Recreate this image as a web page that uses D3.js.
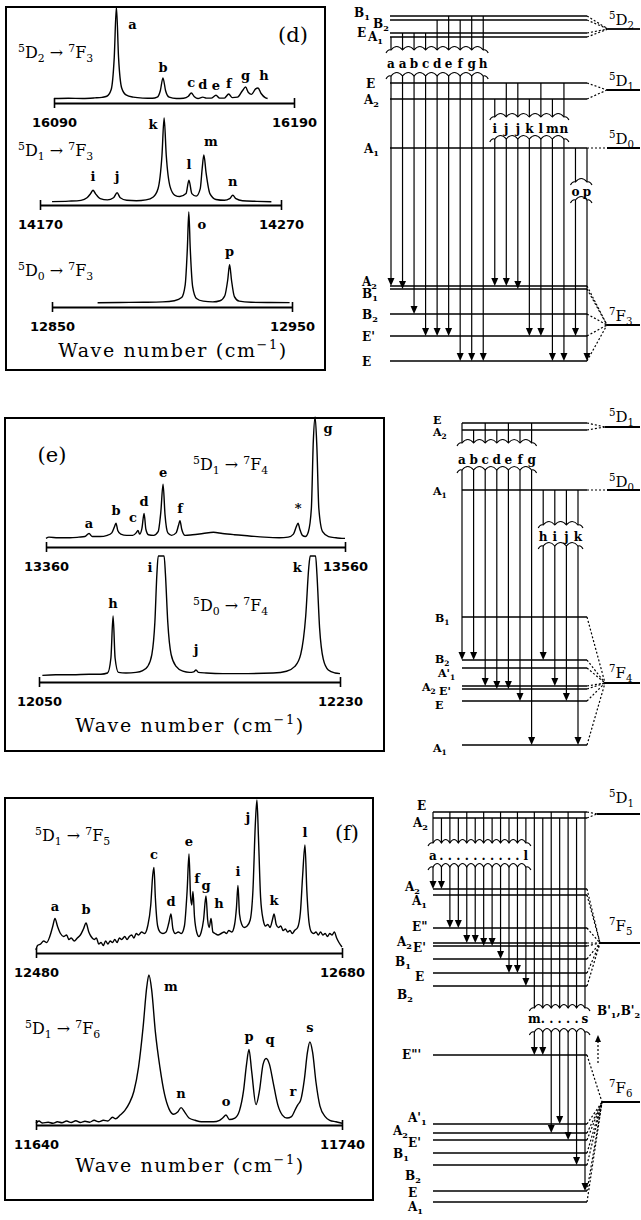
<!DOCTYPE html>
<html>
<head>
<meta charset="utf-8">
<script src="https://cdn.jsdelivr.net/npm/d3@7/dist/d3.min.js"></script>
<style>
  body { margin: 0; background: #fff; }
  text { fill: #000; }
</style>
</head>
<body>
<svg id="chart" width="641" height="1220"></svg>
<script>
// ---------- spectra: [wave number (cm-1), relative intensity] ----------
const specD1 = [[16090,0.5],[16096,0.8],[16102,0.6],[16107,1.2],[16110,1.8],[16112,3],[16113.8,10],[16115.1,45],[16116,100],[16116.9,45],[16118.2,12],[16120,4.5],[16123,2],[16127,1],[16131,0.8],[16133,2],[16134.3,9],[16135.4,23],[16136.5,9],[16138,2],[16141,0.5],[16144,0.8],[16146,3],[16147.2,6.5],[16148.5,2.5],[16150,0.5],[16152,2],[16153.5,1],[16155.5,1],[16157.5,4],[16159,1],[16161,1],[16162.8,5.5],[16164.3,1.5],[16166.5,2],[16168.5,9],[16169.8,13],[16171,7],[16172.3,5],[16174,11],[16175,12],[16176.3,6],[16178,1.5],[16179,0.5]];
const specD2 = [[14175,0.5],[14182,1],[14187,2],[14189.5,5],[14191,10],[14192,14],[14193,10],[14195,4],[14198,2.5],[14200.5,5],[14202,11],[14203.3,5],[14206,2],[14210,1.5],[14214,2.5],[14217,6],[14219,16],[14220.6,55],[14221.5,100],[14222.4,55],[14224,18],[14226,8],[14228,6.5],[14230.6,10],[14231.8,26],[14233,10],[14234.8,7],[14236.5,16],[14237.3,40],[14238,56],[14238.9,35],[14240.5,10],[14243,3],[14246.5,2],[14248.7,4],[14250,8],[14251.3,4],[14254,1.5],[14260,0.8],[14266,0.3]];
const specD3 = [[12869,0.3],[12878,0.6],[12888,0.8],[12896,1.2],[12901,2.5],[12904,6],[12905.5,20],[12906.4,60],[12907,100],[12907.6,60],[12908.6,18],[12910.2,5],[12913,2],[12917,1.2],[12920,2.5],[12922,8],[12923.2,25],[12924,42],[12924.8,25],[12926,7],[12928,2],[12933,0.8],[12941,0.5],[12949,0.4]];
const specE1 = [[13360,0.5],[13362,1.5],[13368,1],[13376,1],[13382,1.5],[13386,2],[13388.8,4.5],[13391,2],[13396,2],[13401,3],[13404,5],[13405.8,10],[13406.8,13],[13408,7],[13410,4],[13414,3],[13418,3],[13420.3,5],[13421.5,7],[13422.6,4],[13424.2,9],[13425.6,21],[13426.8,8],[13428.5,3.5],[13432,3],[13435,6],[13436.8,22],[13438.3,45],[13439.6,20],[13441.5,5],[13444,3],[13447,5],[13448.6,11],[13449.6,15],[13450.8,8],[13453,3],[13458,3.5],[13465,4.5],[13472,5.5],[13478,4.5],[13486,3.5],[13496,2.5],[13506,1.5],[13516,1],[13522,1.5],[13525.5,4],[13527.4,10],[13528.6,13],[13529.8,8],[13531.5,3],[13533.5,2],[13535.5,6],[13537.5,25],[13538.8,80],[13540,100],[13541.2,75],[13542.5,25],[13545,6],[13549,2],[13554,1],[13558,0.5],[13560,0.5]];
const specE2 = [[12052,0.5],[12060,1],[12070,1],[12080,1.5],[12087,1.5],[12091,2.5],[12093,15],[12094.3,50],[12095.5,15],[12097.5,3],[12102,2.5],[12108,3],[12112,4.5],[12115,8],[12117.5,18],[12119.3,45],[12120.5,85],[12121.3,100],[12124.8,100],[12125.6,85],[12127,45],[12129,18],[12132,8],[12136,4],[12140,3],[12142.5,3.5],[12143.9,5],[12145.3,3],[12150,2.5],[12160,2],[12175,2],[12190,2.5],[12198,4],[12203,8],[12206.5,18],[12209.5,50],[12211.3,90],[12212.2,100],[12215.4,100],[12216.2,85],[12217.8,40],[12220,14],[12223,5],[12227,2.5],[12230,2]];
const specF1 = [[12480,0],[12481,3],[12483,4],[12485,6],[12487,5],[12489,9],[12491,16],[12492.4,21],[12494,16],[12496,11],[12498,9],[12500,10],[12501.5,7],[12503,8],[12505,6],[12507,8],[12509,10],[12511,14],[12512.7,18],[12514.5,12],[12516,9],[12518,7],[12519.5,8],[12521,4],[12522.5,5],[12524,3],[12525.5,6],[12527,4],[12528.5,6],[12530,5],[12531.5,7],[12533,5],[12534.5,8],[12536,7],[12538,9],[12539.5,7],[12541,9],[12542.5,10],[12544,8],[12545.5,11],[12547,10],[12549,12],[12551,11],[12553,16],[12555,30],[12556.3,50],[12557.1,55],[12558,35],[12559.5,16],[12561,12],[12563,11],[12565,12],[12566.8,18],[12568.2,24],[12569.5,14],[12571,11],[12573,12],[12575,11],[12577,16],[12578.8,40],[12580,64],[12581,36],[12581.8,30],[12582.6,39],[12583.6,22],[12585,12],[12586.5,9],[12588,12],[12589.5,20],[12591.1,36],[12592.2,20],[12593.2,15],[12594.4,21],[12595.6,12],[12597,11],[12599,10],[12601,11],[12603,12],[12604.5,11],[12606,13],[12608,12],[12609.8,17],[12611,28],[12612,43],[12613,24],[12614.5,17],[12616,15],[12618,16],[12620,20],[12621.8,40],[12623.4,85],[12624.4,100],[12625.4,75],[12626.8,35],[12628.5,20],[12630,16],[12631.5,17],[12633,15],[12634.5,20],[12635.6,24],[12637,17],[12638.5,15],[12640,16],[12641.5,13],[12643,14],[12644.5,12],[12646,13],[12647.5,11],[12649,13],[12651,15],[12652.8,25],[12654.3,50],[12655.8,70],[12657,40],[12658.5,18],[12660,12],[12661.5,11],[12663,12],[12664.5,10],[12666,12],[12667.5,10],[12669,11],[12670.5,9],[12672,11],[12673.5,10],[12675,12],[12676.5,8],[12678,5],[12680,2]];
const specF2 = [[11640,0.5],[11641,2],[11642,0.7],[11644,1.2],[11645.5,0.5],[11647,1.5],[11648.5,0.8],[11650,2],[11651.5,1],[11653,2.2],[11654.5,1],[11656,1.8],[11657.5,1.2],[11659,2.5],[11660.5,1.5],[11662,2.5],[11663.5,2],[11665,4.5],[11666,3.5],[11667.5,6],[11669,9],[11670.5,14],[11672,22],[11673.5,38],[11675,65],[11676.2,92],[11676.9,100],[11677.8,90],[11679,62],[11680.5,38],[11682,20],[11683.5,10],[11685,6.5],[11686.3,8],[11687.4,11],[11688.6,8],[11690,4],[11692,2.5],[11694,1.5],[11696,1.5],[11698,1.5],[11700,2.5],[11701,4],[11702.1,6],[11703.2,3],[11705,4],[11706.5,9],[11707.8,22],[11708.8,40],[11709.6,50],[11710.5,35],[11711.9,13],[11713,22],[11714.2,40],[11715.2,44],[11716.3,40],[11717.5,28],[11719,13],[11720.5,6],[11722,4],[11723.5,5],[11724.8,10],[11725.6,13],[11726.5,16],[11727.7,30],[11728.7,48],[11729.5,55],[11730.4,48],[11731.5,28],[11732.8,12],[11734.5,5],[11736,2.5],[11738,1.5],[11740,0.5]];

// peak labels: [label, wave number, intensity]
const peaksD1 = [['a',16116,100],['b',16135.4,23],['c',16147.2,6.5],['d',16152,2],['e',16157.5,4],['f',16162.8,5.5],['g',16169.8,13],['h',16175,12]];
const peaksD2 = [['i',14192,14],['j',14202,11],['k',14221.5,100],['l',14231.8,26],['m',14238,56],['n',14250,8]];
const peaksD3 = [['o',12907,100],['p',12924,42]];
const peaksE1 = [['a',13388.8,4.5],['b',13406.8,13],['c',13421.5,7],['d',13425.6,21],['e',13438.3,45],['f',13449.6,15],['*',13528.6,13],['g',13540,100]];
const peaksE2 = [['h',12094.3,50],['i',12123,100],['j',12143.9,5],['k',12214,100]];
const peaksF1 = [['a',12492.4,21],['b',12512.7,18],['c',12557.1,55],['d',12568.2,24],['e',12580,64],['f',12582.6,39],['g',12591.1,36],['h',12594.4,21],['i',12612,43],['j',12624.4,100],['k',12635.6,24],['l',12655.8,70]];
const peaksF2 = [['m',11676.9,100],['n',11687.4,11],['o',11702.1,6],['p',11709.6,50],['q',11715.2,44],['r',11725.6,13],['s',11729.5,55]];

// axis tick labels
const ticksD1 = [16090, 16190];
const ticksD2 = [14170, 14270];
const ticksD3 = [12850, 12950];
const ticksE1 = [13360, 13560];
const ticksE2 = [12050, 12230];
const ticksF1 = [12480, 12680];
const ticksF2 = [11640, 11740];

// ^x = superscript char, _x = subscript char
const titles = ['^5D_2 → ^7F_3', '^5D_1 → ^7F_3', '^5D_0 → ^7F_3', '^5D_1 → ^7F_4', '^5D_0 → ^7F_4', '^5D_1 → ^7F_5', '^5D_1 → ^7F_6'];
const panelNames = ['(d)', '(e)', '(f)'];
const xAxisTitle = 'Wave number (cm^−^1)';

// ---------- energy level diagrams ----------
// terms: [name, energy]; levels: [term index, name, energy]; transitions: [label, from level, to level]
const termsD = [['^5D_2', 332], ['^5D_1', 271], ['^5D_0', 213], ['^7F_3', 36]];
const levelsD = [[0,'B_1',345],[0,'B_2',341],[0,'E',328],[0,'A_1',324],[1,'E',278],[1,'A_2',262],[2,'A_1',213],[3,'A_2',75],[3,'B_1',72],[3,'B_2',47],[3,"E'",25],[3,'E',0]];
const transD = [['a',3,7],['a',2,8],['b',2,9],['c',2,10],['d',1,10],['e',0,10],['f',1,11],['g',0,11],['h',0,11],['i',5,7],['j',4,7],['j',4,8],['k',5,10],['l',4,10],['m',5,11],['n',4,11],['o',6,10],['p',6,11]];

const termsE = [['^5D_1', 318], ['^5D_0', 255], ['^7F_4', 62]];
const levelsE = [[0,'E',322],[0,'A_2',315],[1,'A_1',255],[2,'B_1',128],[2,'B_2',85],[2,"A'_1",77],[2,'A_2',59],[2,"E'",56],[2,'E',44],[2,'A_1',0]];
const transE = [['a',0,4],['b',1,4],['c',0,6],['d',1,7],['e',0,7],['f',1,8],['g',0,9],['h',2,4],['i',2,6],['j',2,8],['k',2,9]];

const termsF = [['^5D_1', 388], ['^7F_5', 259], ['^7F_6', 100]];
const levelsF = [[0,'E',390],[0,'A_2',384],[1,'A_2',313],[1,'A_1',307],[1,'E"',274],[1,'A_2',259],[1,"E'",256],[1,'B_1',243],[1,'E',229],[1,'B_2',216],[2,'E"\'',147],[2,"A'_1",78],[2,'A_2',69],[2,"E'",62],[2,'B_1',49],[2,'B_2',37],[2,'E',11],[2,'A_1',0]];
const transF = [['a',0,2],['b',1,2],['c',0,4],['d',1,4],['e',0,5],['f',1,5],['g',0,6],['h',1,6],['i',0,7],['j',1,8],['k',0,8],['l',1,9],['m',0,10],['n',1,10],['o',0,12],['p',1,11],['q',0,13],['r',1,15],['s',0,16]];
const extraF = "B'_1,B'_2";

// ---------- layout ----------
const SERIF = "'DejaVu Serif', 'Liberation Serif', serif";
const SANS = "'DejaVu Sans', 'Liberation Sans', sans-serif";
const svg = d3.select('#chart');

const boxes = [[6, 7, 319, 363], [5, 418, 379, 333], [5, 798, 368, 402]];
const panelNamePos = [[293, 42], [52, 462], [347, 840]];
const axisTitlePos = [[173, 357], [190, 732], [190, 1172]];

const spectra = [
  {data: specD1, peaks: peaksD1, ticks: ticksD1, title: titles[0], xr: [54, 294], axisY: 103, baseY: 99, topY: 7, tx: 18, ty: 58,
   nudge: {a: [16, 28], d: [0, -2], e: [0, 1], g: [0, -1], h: [6, -2]}},
  {data: specD2, peaks: peaksD2, ticks: ticksD2, title: titles[1], xr: [40, 281], axisY: 205, baseY: 202, topY: 118, tx: 18, ty: 156,
   nudge: {i: [0, -3], j: [0, -6], k: [-11, 17], l: [0, -5], m: [7, -3], n: [0, -3]}},
  {data: specD3, peaks: peaksD3, ticks: ticksD3, title: titles[2], xr: [52, 292], axisY: 307, baseY: 303, topY: 212, tx: 18, ty: 276,
   nudge: {o: [13, 23], p: [0, -3]}},
  {data: specE1, peaks: peaksE1, ticks: ticksE1, title: titles[3], xr: [46, 345], axisY: 547, baseY: 539, topY: 417, tx: 193, ty: 470,
   nudge: {b: [0, -2], c: [-5, -2], d: [0, -1], e: [0, -1], f: [0, -2], '*': [0, -4], g: [13, 22]}},
  {data: specE2, peaks: peaksE2, ticks: ticksE2, title: titles[4], xr: [39, 340], axisY: 682, baseY: 676, topY: 556, tx: 193, ty: 611,
   nudge: {h: [0, -2], i: [-11, 22], j: [0, -10], k: [-16, 22]}},
  {data: specF1, peaks: peaksF1, ticks: ticksF1, title: titles[5], xr: [36, 342], axisY: 953, baseY: 950, topY: 800, tx: 35, ty: 841,
   nudge: {a: [0, -2], b: [0, -3], c: [0, -3], d: [0, -2], e: [0, -2], f: [4, -3], g: [0, 0], h: [8, -5], i: [0, -4], j: [-9, 28], k: [0, -3], l: [0, -2]}},
  {data: specF2, peaks: peaksF2, ticks: ticksF2, title: titles[6], xr: [36, 342], axisY: 1125, baseY: 1124, topY: 975, tx: 25, ty: 1034,
   nudge: {m: [22, 22], n: [0, -4], o: [0, -3], p: [0, -3], q: [4, -8], r: [-5, -3], s: [0, -4]}}
];

const diagrams = [
  {levels: levelsD, terms: termsD, trans: transD, left: 390, right: 587, tr: [391, 587], eMax: 345, yr: [361, 16],
   conv: [608, 607, 607, 607], termDy: [-4, -4, -4, -4], labSize: 12,
   groups: [[0, 8, 50, 68, 76], [9, 15, 117, 133, 139], [16, 17, 182, 196, 200]],
   lab: [[-36,1],[-17,8],[-33,4],[-22,4],[-24,5],[-26,5],[-26,5],[-28,0],[-28,9],[-28,5],[-28,5],[-28,5]]},
  {levels: levelsE, terms: termsE, trans: transE, left: 462, right: 587, tr: [462, 578], eMax: 322, yr: [745, 423],
   conv: [605, 607, 605], termDy: [-5, -3, -5], labSize: 11,
   groups: [[0, 6, 443, 464, 470], [7, 10, 525, 541, 546]],
   lab: [[-29,1],[-29,6],[-29,5],[-27,5],[-27,3],[-24,9],[-40,5],[-23,6],[-27,8],[-29,7]]},
  {levels: levelsF, terms: termsF, trans: transF, left: 433, right: 587, tr: [433, 585], eMax: 390, yr: [1202, 812],
   conv: [597, 600, 602], termDy: [-11, -12, -9], dotted: true, labSize: 12,
   groups: [[0, 11, 843, 860, 867], [12, 18, 1008, 1023, 1032]],
   lab: [[-16,-2],[-20,9],[-28,2],[-21,10],[-21,3],[-36,3],[-20,6],[-38,7],[-18,8],[-36,13],[-31,4],[-25,-2],[-40,2],[-25,7],[-40,5],[-28,15],[-25,6],[-25,9]],
   extra: {text: extraF, x: 597, y: 1015, ax: 598, ay: [1063, 1035]}}
];

// text with ^sup and _sub characters
function rich(sel, str, size) {
  let cur = 0;
  (str.match(/\^.|_.|[^\^_]+/g) || []).forEach(p => {
    let off = 0, s = size, t = p;
    if (p[0] === '^') { off = -0.4 * size; s = size * 0.68; t = p.slice(1); }
    else if (p[0] === '_') { off = 0.28 * size; s = size * 0.68; t = p.slice(1); }
    sel.append('tspan').attr('dy', off - cur).attr('font-size', s).text(t);
    cur = off;
  });
  return sel;
}

// panel frames
svg.selectAll('rect.box').data(boxes).join('rect')
  .attr('x', d => d[0]).attr('y', d => d[1]).attr('width', d => d[2]).attr('height', d => d[3])
  .attr('fill', 'none').attr('stroke', '#000').attr('stroke-width', 2);

panelNames.forEach((n, i) => {
  svg.append('text').attr('x', panelNamePos[i][0]).attr('y', panelNamePos[i][1])
    .attr('text-anchor', 'middle').attr('font-family', SERIF).attr('font-size', 21).text(n);
  rich(svg.append('text').attr('x', axisTitlePos[i][0]).attr('y', axisTitlePos[i][1])
    .attr('text-anchor', 'middle').attr('font-family', SERIF).attr('letter-spacing', 1.6), xAxisTitle, 19);
});

// spectra
spectra.forEach(s => {
  const x = d3.scaleLinear().domain(d3.extent(s.ticks)).range(s.xr);
  const y = d3.scaleLinear().domain([0, 100]).range([s.baseY, s.topY]);
  const g = svg.append('g');

  g.append('path').datum(s.data)
    .attr('d', d3.line().x(d => x(d[0])).y(d => y(d[1])).curve(d3.curveMonotoneX))
    .attr('fill', 'none').attr('stroke', '#000').attr('stroke-width', 1.4).attr('stroke-linejoin', 'round');

  const ax = g.append('g').attr('transform', `translate(0,${s.axisY})`)
    .call(d3.axisBottom(x).tickValues(s.ticks).tickFormat(d3.format('d')).tickSizeOuter(0).tickSizeInner(0));
  ax.select('.domain').attr('stroke-width', 1.8);
  ax.selectAll('.tick line').attr('y1', -5).attr('y2', 5).attr('stroke-width', 1.6);
  ax.selectAll('.tick text').attr('y', 24).attr('dy', null)
    .attr('font-family', SANS).attr('font-size', 13).attr('font-weight', 'bold');

  g.selectAll('text.pk').data(s.peaks).join('text')
    .attr('x', d => x(d[1]) + (s.nudge[d[0]] || [0, 0])[0])
    .attr('y', d => y(d[2]) - 6 + (s.nudge[d[0]] || [0, 0])[1])
    .attr('text-anchor', 'middle').attr('font-family', SERIF).attr('font-weight', 'bold').attr('font-size', 13)
    .text(d => d[0]);

  rich(g.append('text').attr('x', s.tx).attr('y', s.ty).attr('font-family', SERIF), s.title, 16);
});

function wave(xs, y0) {
  const first = xs[0], last = xs[xs.length - 1];
  let p = `M${first - 5},${y0 + 3}Q${first - 3},${y0 - 1} ${first},${y0}`;
  for (let k = 0; k < xs.length - 1; k++) p += `Q${(xs[k] + xs[k + 1]) / 2},${y0 - 7} ${xs[k + 1]},${y0}`;
  p += `Q${last + 3},${y0 - 1} ${last + 5},${y0 + 3}`;
  return p;
}

function drawDiagram(c) {
  const y = d3.scaleLinear().domain([0, c.eMax]).range(c.yr);
  const x = d3.scalePoint().domain(d3.range(c.trans.length)).range(c.tr);
  const g = svg.append('g');

  g.selectAll('line.lv').data(c.levels).join('line')
    .attr('x1', c.left).attr('x2', c.right).attr('y1', d => y(d[2])).attr('y2', d => y(d[2]))
    .attr('stroke', '#000').attr('stroke-width', 1.6);

  g.selectAll('line.cn').data(c.levels).join('line')
    .attr('x1', c.right).attr('y1', d => y(d[2]))
    .attr('x2', d => c.conv[d[0]]).attr('y2', d => y(c.terms[d[0]][1]))
    .attr('stroke', '#000').attr('stroke-width', 1.2).attr('stroke-dasharray', '2,2');

  c.terms.forEach((t, i) => {
    g.append('line').attr('x1', c.conv[i]).attr('x2', 640).attr('y1', y(t[1])).attr('y2', y(t[1]))
      .attr('stroke', '#000').attr('stroke-width', 1.8);
    rich(g.append('text').attr('x', 609).attr('y', y(t[1]) + c.termDy[i]).attr('font-family', SERIF), t[0], 15);
  });

  c.levels.forEach((d, i) => {
    rich(g.append('text').attr('x', c.left + c.lab[i][0]).attr('y', y(d[2]) + c.lab[i][1])
      .attr('font-family', SERIF).attr('font-weight', 'bold'), d[1], c.labSize);
  });

  c.trans.forEach((t, i) => {
    const xi = x(i), y0 = y(c.levels[t[1]][2]), y1 = y(c.levels[t[2]][2]);
    const grp = c.groups.find(gr => i >= gr[0] && i <= gr[1]);
    const segs = grp ? [[y0, grp[2]], [grp[4], y1 - 7]] : [[y0, y1 - 7]];
    segs.forEach(sg => g.append('line').attr('x1', xi).attr('x2', xi).attr('y1', sg[0]).attr('y2', sg[1])
      .attr('stroke', '#000').attr('stroke-width', 1.2));
    g.append('path').attr('d', `M${xi - 3.5},${y1 - 8}L${xi + 3.5},${y1 - 8}L${xi},${y1}Z`).attr('fill', '#000');
  });

  c.groups.forEach(gr => {
    const idx = d3.range(gr[0], gr[1] + 1);
    const xs = idx.map(x);
    [gr[2], gr[4]].forEach(yy => g.append('path').attr('d', wave(xs, yy))
      .attr('fill', 'none').attr('stroke', '#000').attr('stroke-width', 1.1));
    idx.forEach((ii, k) => {
      const label = (c.dotted && k > 0 && k < idx.length - 1) ? '.' : c.trans[ii][0];
      g.append('text').attr('x', x(ii)).attr('y', gr[3]).attr('text-anchor', 'middle')
        .attr('font-family', SERIF).attr('font-weight', 'bold').attr('font-size', 12).text(label);
    });
  });

  if (c.extra) {
    const e = c.extra;
    rich(g.append('text').attr('x', e.x).attr('y', e.y).attr('font-family', SERIF).attr('font-weight', 'bold'), e.text, 12);
    g.append('line').attr('x1', e.ax).attr('x2', e.ax).attr('y1', e.ay[0]).attr('y2', e.ay[1] + 6)
      .attr('stroke', '#000').attr('stroke-width', 1.2).attr('stroke-dasharray', '2,2');
    g.append('path').attr('d', `M${e.ax - 3},${e.ay[1] + 7}L${e.ax + 3},${e.ay[1] + 7}L${e.ax},${e.ay[1]}Z`).attr('fill', '#000');
  }
}

diagrams.forEach(drawDiagram);
</script>
</body>
</html>
